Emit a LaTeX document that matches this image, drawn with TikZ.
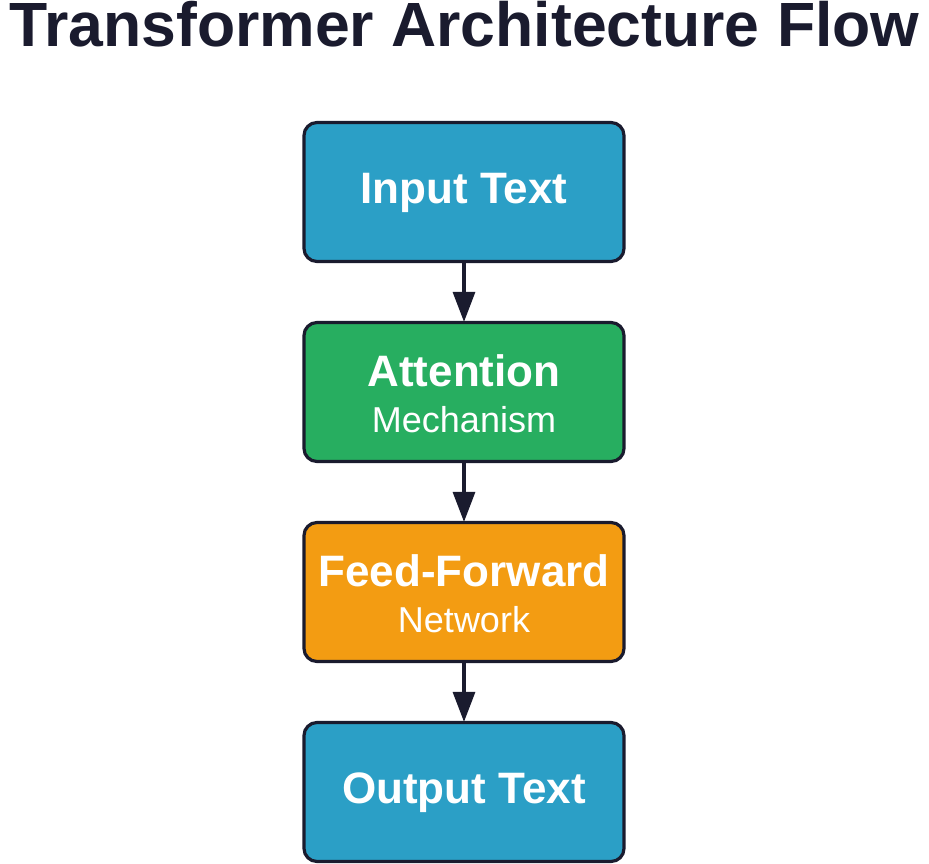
\documentclass[tikz,border=0pt]{standalone}
\usepackage{fontspec}
\setmainfont{Liberation Sans}
\usetikzlibrary{arrows.meta}
\definecolor{navy}{HTML}{1A1B2E}
\definecolor{cblue}{HTML}{2B9FC6}
\definecolor{cgreen}{HTML}{27AE60}
\definecolor{corange}{HTML}{F39C12}
\begin{document}
\begin{tikzpicture}[x=1pt,y=-1pt,
  box/.style={draw=navy,line width=3.2pt,rounded corners=13pt,minimum width=320pt,minimum height=139pt,inner sep=0pt,text=white,align=center},
  big/.style={text=white,font=\fontsize{44}{46}\selectfont\bfseries},
  small/.style={text=white,font=\fontsize{36}{38}\selectfont},
  arr/.style={draw=navy,line width=3.2pt,-{Triangle[length=30pt,width=22pt]},shorten >=-1pt}]
\useasboundingbox (0,0) rectangle (929,864);
\node[text=navy,font=\fontsize{62.5}{66}\selectfont\bfseries,anchor=base,inner sep=0pt] (title) at (464.5,47) {Transformer Architecture Flow};
\node[box,fill=cblue] (in) at (464,192) {};
\node[box,fill=cgreen] (att) at (464,392) {};
\node[box,fill=corange] (ff) at (464,592) {};
\node[box,fill=cblue] (out) at (464,792) {};
\node[big] (t1) at (464,193) {Input Text};
\node[big] (t2) at (464,371) {Attention};
\node[small] (s2) at (464,420) {Mechanism};
\node[big] (t3) at (464,571) {Feed-Forward};
\node[small] (s3) at (464,620) {Network};
\node[big] (t4) at (464,793) {Output Text};
\draw[arr] (in) -- (att);
\draw[arr] (att) -- (ff);
\draw[arr] (ff) -- (out);
\end{tikzpicture}
\end{document}
